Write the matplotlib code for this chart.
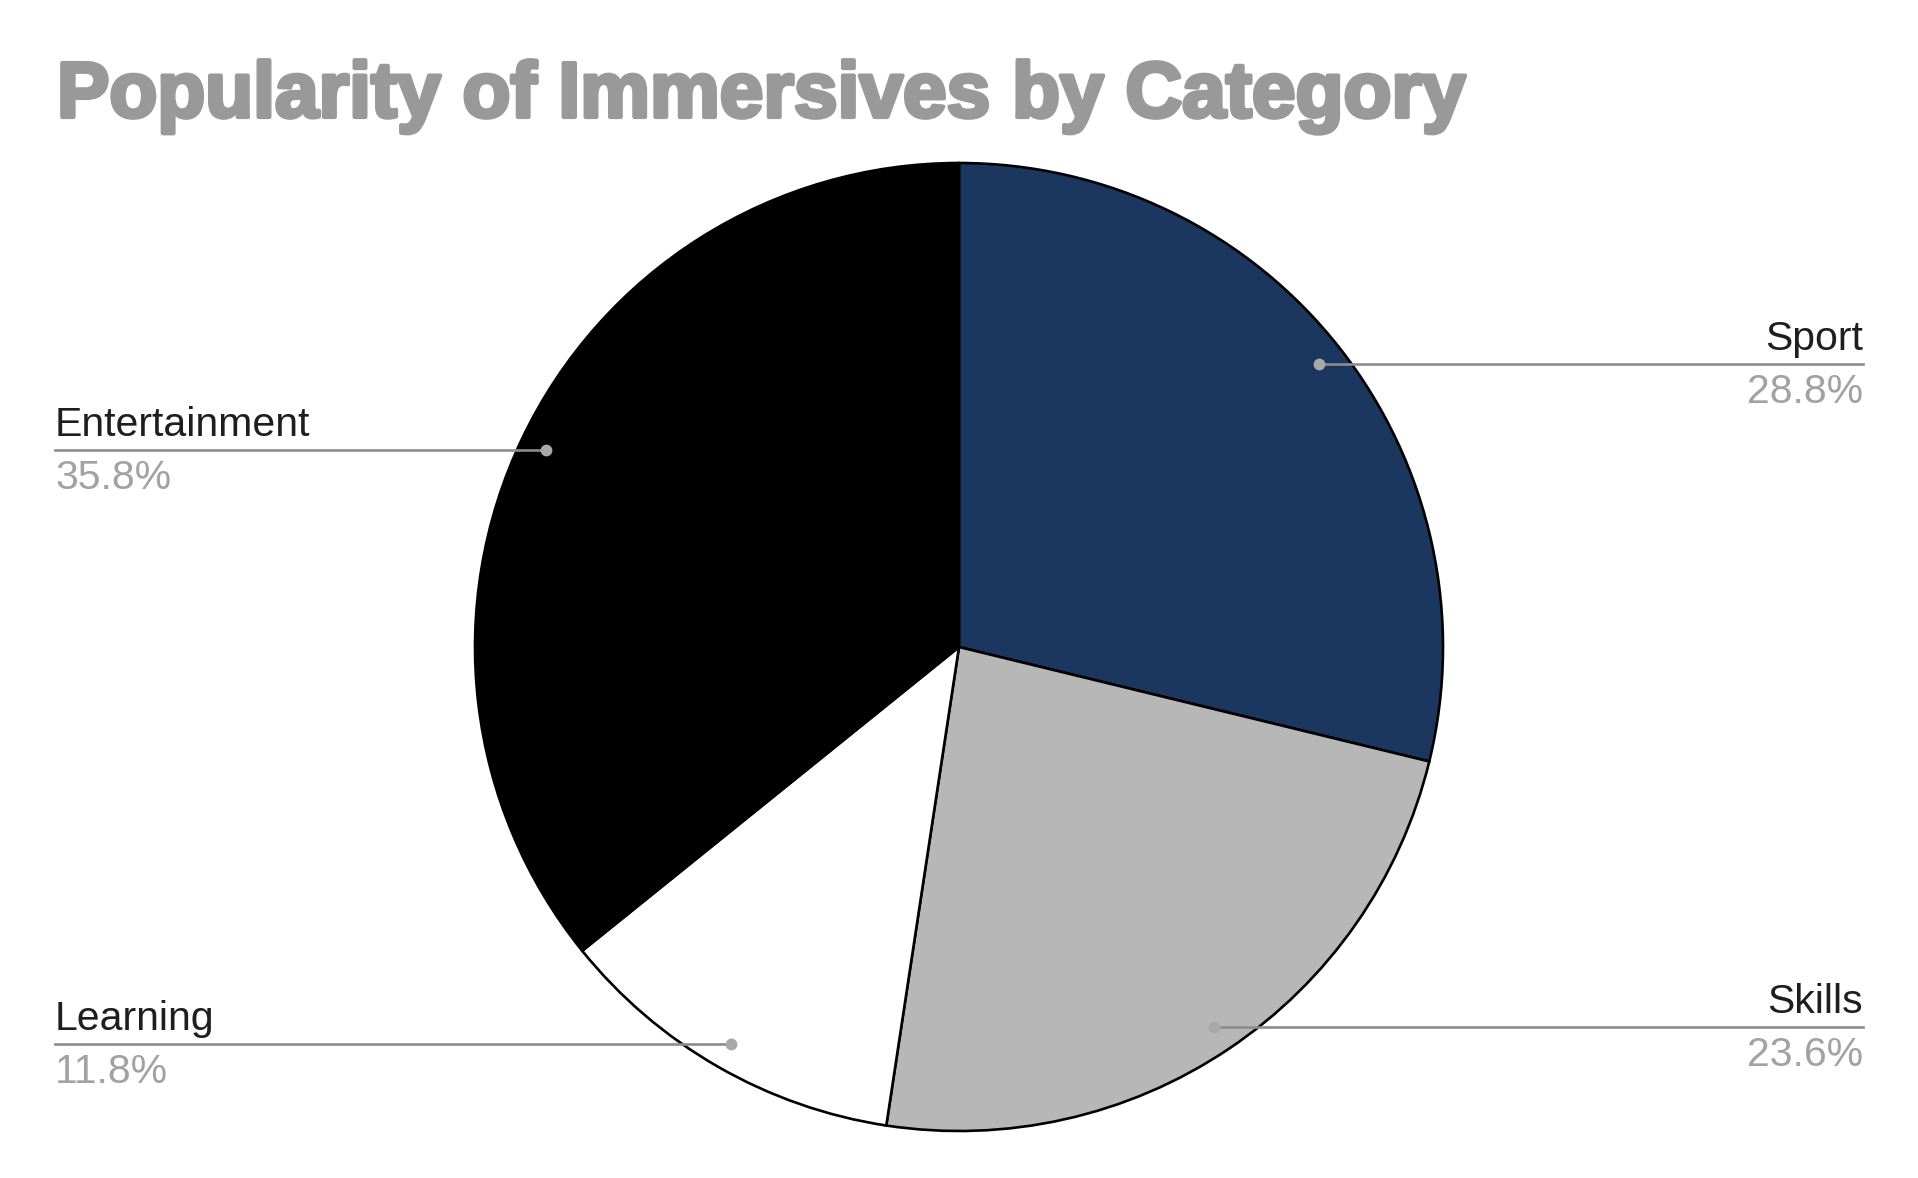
import numpy as np
import matplotlib.pyplot as plt
import matplotlib.patheffects as pe

# ── DATA ─────────────────────────────────────────────────────
categories = ["Sport", "Skills", "Learning", "Entertainment"]
shares = [28.8, 23.6, 11.8, 35.8]
colors = ["#1b365f", "#b7b7b7", "#ffffff", "#000000"]

W, H = 1918, 1178
cx, cy, r = 959, H - 647, 484      # pie centre / radius in pixels

fig = plt.figure(figsize=(W / 100, H / 100), dpi=100)
ax = fig.add_axes([0, 0, 1, 1])

wedges, _ = ax.pie(shares, colors=colors, startangle=90, counterclock=False,
                   center=(cx, cy), radius=r, frame=True,
                   wedgeprops=dict(edgecolor="black", linewidth=1.9))
ax.set_xlim(0, W)
ax.set_ylim(0, H)
ax.axis("off")

# ── LABELS WITH LEADER LINES ─────────────────────────────────
left_x, right_x = 55, 1863
for w, name, val in zip(wedges, categories, shares):
    mid = np.deg2rad((w.theta1 + w.theta2) / 2)
    dx = cx + 0.945 * r * np.cos(mid)
    dy = cy + 0.945 * r * np.sin(mid)
    if np.cos(mid) >= 0:
        tx, ha = right_x, "right"
    else:
        tx, ha = left_x, "left"
    ax.plot([dx, tx], [dy, dy], color="#8c8c8c", lw=1.9, zorder=5)
    ax.plot(dx, dy, "o", color="#a8a8a8", ms=7.5, zorder=6)
    ax.text(tx, dy + 14, name, ha=ha, va="baseline", fontsize=29.5,
            family="Liberation Sans", color="#1e1e1e")
    ax.text(tx, dy - 9, f"{val}%", ha=ha, va="top", fontsize=29.5,
            family="Liberation Sans", color="#a2a2a2")

# ── TITLE ────────────────────────────────────────────────────
ax.text(57, H - 117, "Popularity of Immersives by Category", ha="left",
        va="baseline", fontsize=56.5, fontweight="bold", family="Liberation Sans",
        color="#999999",
        path_effects=[pe.withStroke(linewidth=3, foreground="#999999")])

fig.savefig("out.png", dpi=100, facecolor="white")
